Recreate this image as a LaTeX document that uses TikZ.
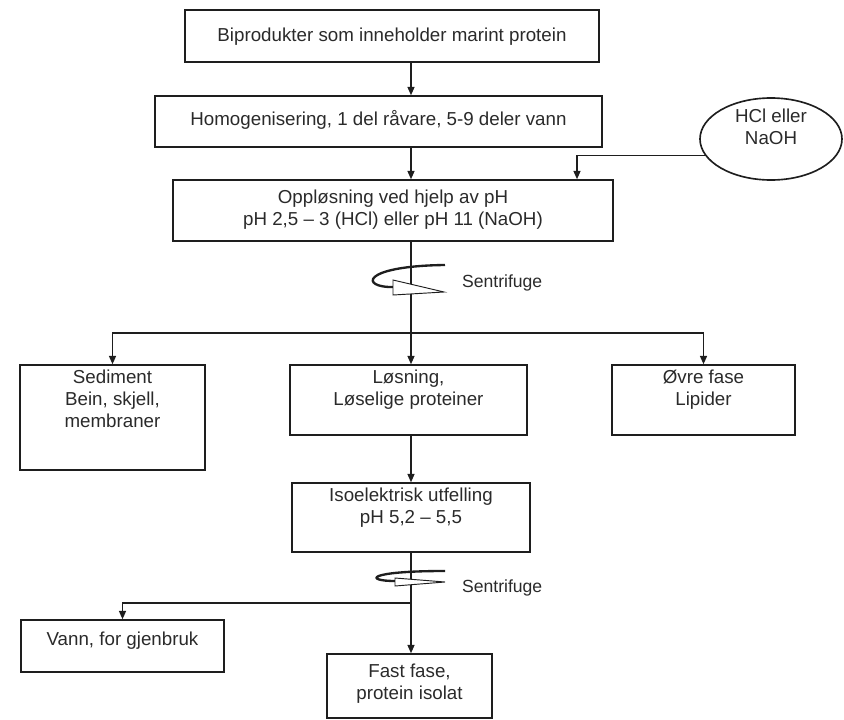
\documentclass[tikz,border=0pt]{standalone}
\usepackage{fontspec}
\setmainfont{Liberation Sans}
\usetikzlibrary{shapes.geometric, arrows.meta, positioning, calc}
\definecolor{flowline}{HTML}{1E1E1E}
\definecolor{flowtext}{HTML}{2A2A2A}

\begin{document}
\begin{tikzpicture}[x=0.3mm, y=-0.3mm,
  box/.style={draw=flowline, line width=1.4pt, inner sep=0pt},
  intext/.style={anchor=north, align=center, inner sep=0pt, text=flowtext, font=\fontsize{16}{18.5}\selectfont},
  flow/.style={draw=flowline, line width=1pt, -{Triangle[length=7pt, width=6pt]}},
  spin/.style={draw=flowline, line width=2pt},
  spinhead/.style={draw=flowline, line width=0.8pt, fill=white},
  note/.style={anchor=west, text=flowtext, font=\fontsize{15}{17}\selectfont}
]
\useasboundingbox (0,0) rectangle (844,720);
\coordinate (axis) at (411,0);

% main line
\node[box, minimum width=124.2mm, minimum height=15.6mm, label={[intext, yshift=-16pt]north:Biprodukter som inneholder marint protein}] (bip) at (392,36) {};
\node[box, minimum width=134.1mm, minimum height=15.3mm, label={[intext, yshift=-13pt]north:Homogenisering, 1 del råvare, 5-9 deler vann}] (hom) at (378.5,121.5) {};
\node[box, ellipse, minimum width=42.6mm, minimum height=24.6mm, label={[intext, yshift=-10pt]north:{HCl eller\\NaOH}}] (acid) at (771,139) {};
\node[box, minimum width=132mm, minimum height=18.3mm, label={[intext, yshift=-9pt]north:{Oppløsning ved hjelp av pH\\pH 2,5 -- 3 (HCl) eller pH 11 (NaOH)}}] (opp) at (393,210.5) {};

% phases after first spin
\node[box, minimum width=55.5mm, minimum height=31.5mm, label={[intext, yshift=-5pt]north:{Sediment\\Bein, skjell,\\membraner}}] (sed) at (112.5,417.5) {};
\node[box, minimum width=71.1mm, minimum height=21mm, label={[intext, yshift=-5pt]north:{Løsning,\\Løselige proteiner}}] (lsn) at (408.5,400) {};
\node[box, minimum width=54.9mm, minimum height=21mm, label={[intext, yshift=-5pt]north:{Øvre fase\\Lipider}}] (ovr) at (703.5,400) {};

\node[box, minimum width=71.4mm, minimum height=20.7mm, label={[intext, yshift=-5pt]north:{Isoelektrisk utfelling\\pH 5,2 -- 5,5}}] (iso) at (411,517.5) {};
\node[box, minimum width=60.9mm, minimum height=15.6mm, label={[intext, yshift=-11pt]north:{Vann, for gjenbruk}}] (vann) at (122.5,646) {};
\node[box, minimum width=49.5mm, minimum height=19.2mm, label={[intext, yshift=-9pt]north:{Fast fase,\\protein isolat}}] (fast) at (409.5,686) {};

\coordinate (feed) at (577,0);
\coordinate (split1) at (411,333);
\coordinate (split2) at (411,603);

\draw[flow] (bip.south -| axis) -- (hom.north -| axis);
\draw[flow] (hom.south -| axis) -- (opp.north -| axis);
\draw[flow] (acid.194) -| (opp.north -| feed);

\draw[draw=flowline, line width=1pt] (opp.south -| axis) -- (split1);
\draw[flow] (split1) -| (sed.north);
\draw[flow] (split1) -- (lsn.north -| axis);
\draw[flow] (split1) -| (ovr.north);

\draw[flow] (lsn.south -| axis) -- (iso.north -| axis);
\draw[flow] (iso.south -| axis) -- (fast.north -| axis);
\draw[flow] (split2) -| (vann.north);

% centrifuge marks
\draw[spin] (445,265) .. controls (360,266) and (360,288) .. (394,287);
\draw[spinhead] (393,280) -- (444,292) -- (393,295) -- cycle;
\node[note] (spin1) at (458,283) {Sentrifuge};

\draw[spin] (445,571) .. controls (365,571) and (365,581) .. (395,581);
\draw[spinhead] (395,578) -- (445,582) -- (395,586) -- cycle;
\node[note] (spin2) at (458,588) {Sentrifuge};
\end{tikzpicture}
\end{document}
